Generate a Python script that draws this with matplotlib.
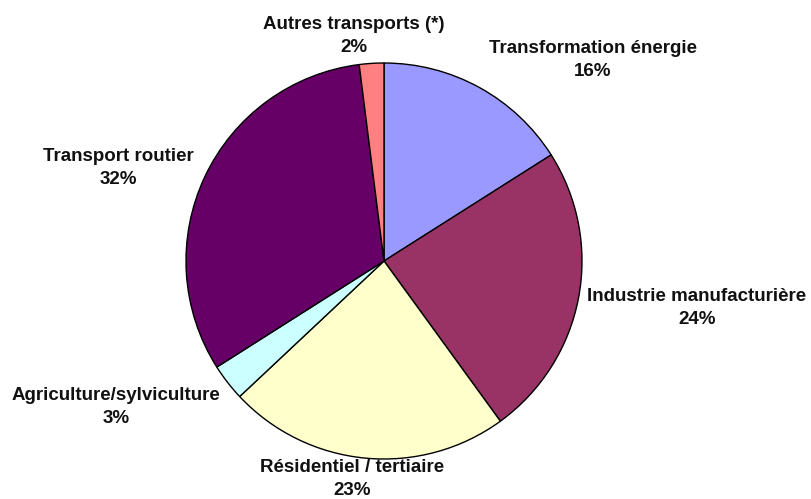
import matplotlib
matplotlib.use("Agg")
import matplotlib.pyplot as plt

# secteurs, dans le sens horaire depuis le haut
secteurs = ["Transformation énergie", "Industrie manufacturière",
            "Résidentiel / tertiaire", "Agriculture/sylviculture",
            "Transport routier", "Autres transports (*)"]
parts = [16, 24, 23, 3, 32, 2]
couleurs = ["#9999FF", "#993366", "#FFFFCC", "#CCFFFF", "#660066", "#FF8080"]

# position des étiquettes (pixels, origine en haut à gauche)
pos_etiq = [(593, 60), (697, 308), (352, 479), (116, 407), (118, 168), (354, 36)]

W, H = 812, 499
fig = plt.figure(figsize=(W / 100, H / 100), dpi=100)
ax = fig.add_axes([0, 0, 1, 1])

ax.pie(parts, colors=couleurs, startangle=90, counterclock=False,
       center=(384, H - 261), radius=198,
       wedgeprops=dict(edgecolor="black", linewidth=1.0))
ax.set_xlim(0, W)
ax.set_ylim(0, H)
ax.set_aspect("equal")
ax.axis("off")

for nom, p, (x, y) in zip(secteurs, parts, pos_etiq):
    ax.text(x, H - y, f"{nom}\n{p}%", ha="center", va="center",
            fontsize=13.5, fontweight="bold", family="Liberation Sans",
            linespacing=1.4, color="#111111")

fig.savefig("out.png", dpi=100)
